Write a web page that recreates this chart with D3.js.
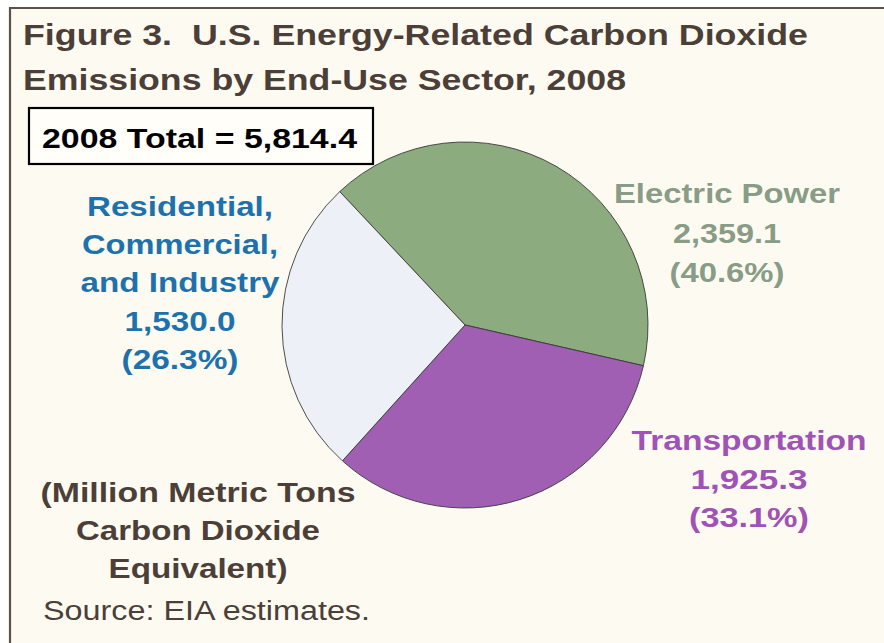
<!DOCTYPE html>
<html>
<head>
<meta charset="utf-8">
<script src="https://cdn.jsdelivr.net/npm/d3@7"></script>
<style>
  html, body { margin: 0; padding: 0; background: #fff; }
  svg text { font-family: "Liberation Sans", Arial, Helvetica, sans-serif; white-space: pre; }
</style>
</head>
<body>
<svg id="chart" width="884" height="643"></svg>
<script>
// data
var sectors = ["Electric Power", "Transportation", "Residential, Commercial, and Industry"];
var values = [2359.1, 1925.3, 1530.0];
var shares = ["40.6%", "33.1%", "26.3%"];
var total = 5814.4;
var titleLines = ["Figure 3.  U.S. Energy-Related Carbon Dioxide", "Emissions by End-Use Sector, 2008"];
var unitLines = ["(Million Metric Tons", "Carbon Dioxide", "Equivalent)"];
var sourceNote = "Source: EIA estimates.";

// styling
var fills = ["#8cab7e", "#a05fb2", "#eef0f7"];
var labelColors = ["#889c86", "#a052b6", "#1d72ad"];
var ink = "#4b3f38";

var svg = d3.select("#chart");
var fmt = d3.format(",.1f");

// panel background + frame (top and left rules)
svg.append("rect").attr("x", 10).attr("y", 8).attr("width", 874).attr("height", 635).attr("fill", "#fdfbf1");
svg.append("line").attr("x1", 9).attr("x2", 884).attr("y1", 8).attr("y2", 8).attr("stroke", "#5c5249").attr("stroke-width", 2.2);
svg.append("line").attr("x1", 10).attr("x2", 10).attr("y1", 7).attr("y2", 643).attr("stroke", "#5c5249").attr("stroke-width", 2.2);

// helper: text stretched to a given width (the source figure is wide-set)
function txt(g, s, x, y, size, width, color, weight, anchor) {
	var t = g.append("text")
		.attr("x", x).attr("y", y)
		.attr("font-size", size)
		.attr("font-weight", weight || "bold")
		.attr("fill", color)
		.attr("text-anchor", anchor || "start")
		.text(s);
	if (width) t.attr("textLength", width).attr("lengthAdjust", "spacingAndGlyphs");
	return t;
}

// title
txt(svg, titleLines[0], 23, 45, 29, 785, ink);
txt(svg, titleLines[1], 23, 90, 29, 603, ink);

// total box
svg.append("rect").attr("x", 29).attr("y", 108).attr("width", 344).attr("height", 56)
	.attr("fill", "#fffef9").attr("stroke", "#000").attr("stroke-width", 2.2);
txt(svg, "2008 Total = " + d3.format(",.1f")(total), 42, 148, 27, 315, "#000");

// pie
var cx = 465, cy = 325, r = 183;
var a0 = -43.2 * Math.PI / 180;
var pie = d3.pie().sort(null).startAngle(a0).endAngle(a0 + 2 * Math.PI);
var arc = d3.arc().innerRadius(0).outerRadius(r);

svg.append("g").attr("transform", "translate(" + cx + "," + cy + ")")
	.selectAll("path")
	.data(pie(values))
	.enter().append("path")
		.attr("d", arc)
		.attr("fill", function(d, i) { return fills[i]; })
		.attr("stroke", "#3a3a3a")
		.attr("stroke-width", 0.9);

// sector labels: name lines, value, share
var labelLayout = [
	{ x: 727, y: 203, gap: 39.5, widths: [226, 108, 115] },
	{ x: 749, y: 450, gap: 38.5, widths: [235, 117, 120] },
	{ x: 180, y: 216, gap: 38.2, widths: [186, 196, 199, 111, 117] }
];
var nameLines = [["Electric Power"], ["Transportation"], ["Residential,", "Commercial,", "and Industry"]];

sectors.forEach(function(s, i) {
	var L = labelLayout[i];
	var lines = nameLines[i].concat([fmt(values[i]), "(" + shares[i] + ")"]);
	var g = svg.append("g");
	lines.forEach(function(line, j) {
		txt(g, line, L.x, L.y + j * L.gap, 28, L.widths[j], labelColors[i], "bold", "middle");
	});
});

// units note
var unitWidths = [315, 244, 179];
unitLines.forEach(function(line, j) {
	txt(svg, line, 198, 502 + j * 38, 28, unitWidths[j], ink, "bold", "middle");
});

// source
txt(svg, sourceNote, 43, 620, 27, 327, ink, "normal");
</script>
</body>
</html>
